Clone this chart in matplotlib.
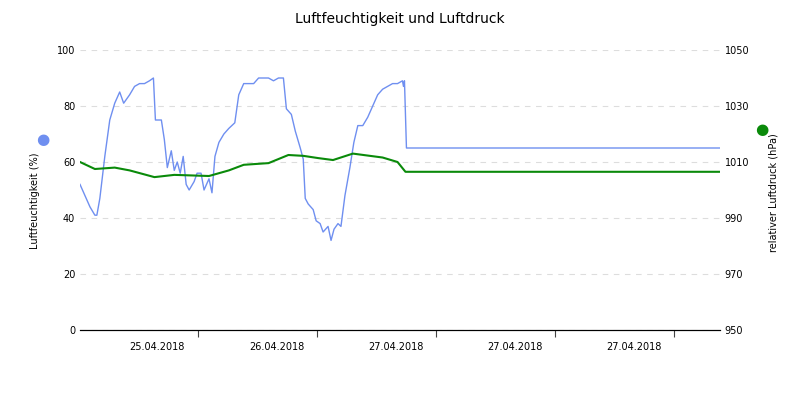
import matplotlib.pyplot as plt
import numpy as np

# time in hours since start
hum_t = [0, 1, 2, 3, 3.4, 4, 5, 6, 7, 8, 8.8, 10, 11, 12, 13, 14, 14.8, 15.2, 16.4, 17, 17.6, 18.4, 19, 19.6, 20.2, 20.8, 21.4, 22, 23, 23.6, 24.4, 25, 26, 26.6, 27.2, 28, 29, 30, 31.2, 32, 33, 34, 35, 36, 38, 39, 40, 41, 41.6, 42.6, 43.4, 44.4, 45, 45.4, 46, 47, 47.6, 48.4, 49, 50, 50.6, 51.2, 52, 52.6, 53.4, 54.4, 55.2, 56, 57, 58, 59, 60, 61, 62, 63, 64, 65, 65.2, 65.4, 65.8, 129]
hum_v = [52, 48, 44, 41, 41, 47, 62, 75, 81, 85, 81, 84, 87, 88, 88, 89, 90, 75, 75, 68, 58, 64, 57, 60, 56, 62, 52, 50, 53, 56, 56, 50, 54, 49, 62, 67, 70, 72, 74, 84, 88, 88, 88, 90, 90, 89, 90, 90, 79, 77, 71, 65, 61, 47, 45, 43, 39, 38, 35, 37, 32, 36, 38, 37, 48, 58, 67, 73, 73, 76, 80, 84, 86, 87, 88, 88, 89, 87, 89, 65, 65]
pres_t = [0, 3, 7, 10, 15, 19, 26, 30, 33, 38, 42, 45, 48, 51, 55, 61, 64, 65.6, 129]
pres_v = [1010, 1007.5, 1008, 1007, 1004.6, 1005.4, 1005, 1007, 1009, 1009.6, 1012.5, 1012.2, 1011.4, 1010.7, 1013, 1011.6, 1010, 1006.5, 1006.5]
tick_labels = ["25.04.2018", "26.04.2018", "27.04.2018", "27.04.2018", "27.04.2018"]

fig = plt.figure(figsize=(8, 4), dpi=100)
ax = fig.add_axes([0.1, 0.175, 0.8, 0.7])
ax2 = ax.twinx()
ax.plot(hum_t, hum_v, color="#6f8ff0", lw=1)
ax2.plot(pres_t, pres_v, color="#0a8a0a", lw=1.5)
ax.set_xlim(0, 129)
ax.set_ylim(0, 100)
ax2.set_ylim(950, 1050)
ax.set_yticks(range(0, 101, 20))
ax2.set_yticks(range(950, 1051, 20))
ax.grid(axis="y", ls=(0, (5, 5)), color="#dddddd")
ax.set_xticks([23.8, 47.8, 71.8, 95.8, 119.8])
ax.set_xticks([15.6, 39.6, 63.6, 87.6, 111.6], minor=True)
ax.set_xticklabels(tick_labels, minor=True, fontsize=7)
ax.set_xticklabels([])
ax.tick_params(axis="x", which="minor", length=0, pad=9)
ax.tick_params(axis="x", which="major", length=5, color="#444")
for a in (ax, ax2):
    a.tick_params(axis="y", labelsize=7, length=0)
    for s in ["top", "right", "left"]:
        a.spines[s].set_visible(False)
ax.set_ylabel("Luftfeuchtigkeit (%)", fontsize=7)
ax.yaxis.set_label_coords(-0.0625, 0.46)
ax2.set_ylabel("relativer Luftdruck (hPa)", fontsize=7)
ax2.yaxis.set_label_coords(1.075, 0.49)
fig.text(0.054, 0.65, "\u25CF", color="#6f8ff0", fontsize=11, ha="center", va="center")
fig.text(0.952, 0.675, "\u25CF", color="#0a8a0a", fontsize=11, ha="center", va="center")
fig.suptitle("Luftfeuchtigkeit und Luftdruck", y=0.97, fontsize=10)
fig.savefig("out.png")
